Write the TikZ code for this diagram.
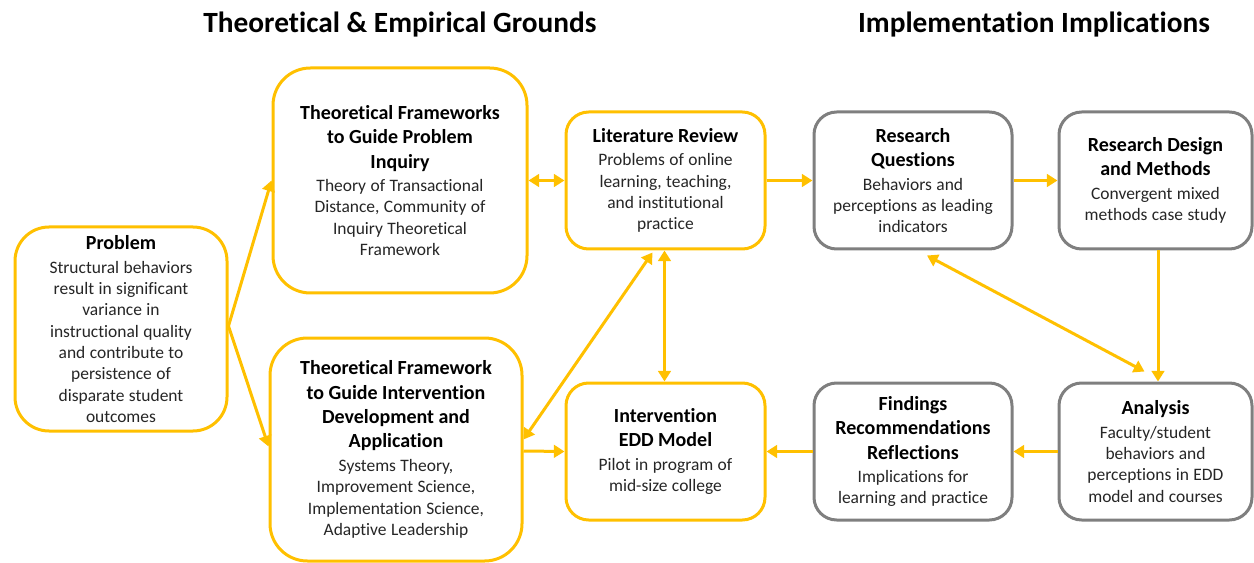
\documentclass[tikz,border=0pt]{standalone}
\usepackage{fontspec}
\setmainfont{Carlito}[Ligatures=NoCommon]
\usetikzlibrary{arrows.meta,calc}
\definecolor{ylw}{HTML}{FFC000}
\definecolor{gry}{HTML}{7F7F7F}
\definecolor{bodytxt}{HTML}{262626}
\newcommand{\bxt}[2]{{\fontsize{15}{18.3}\selectfont\bfseries #1\par}\vspace{1.6pt}{\color{bodytxt}\fontsize{13.1}{16}\selectfont #2\par}}
\tikzset{
  boxbase/.style={draw, line width=2.25pt, align=center, inner sep=0pt, fill=white},
  ybox/.style={boxbase, draw=ylw},
  gbox/.style={boxbase, draw=gry},
  smallbox/.style={minimum height=102.75pt, rounded corners=17pt},
  conn/.style={draw=ylw, line width=2.25pt},
  >={Triangle[length=8pt,width=9.5pt]},
  sect/.style={font=\fontsize{22}{26}\selectfont\bfseries, inner sep=0pt}
}
\begin{document}
\begin{tikzpicture}[x=0.75pt,y=-0.75pt]
\useasboundingbox (0,0) rectangle (1254,563);

\node[sect] (t1) at (400,25) {Theoretical \& Empirical Grounds};
\node[sect] (t2) at (1034,25) {Implementation Implications};

\node[ybox, minimum width=159pt, minimum height=153pt, text width=150pt, rounded corners=25.5pt] (prob) at (121,329)
 {\bxt{Problem}{Structural behaviors\\result in significant\\variance in\\instructional quality\\and contribute to\\persistence of\\disparate student\\outcomes}};

\node[ybox, minimum width=190.5pt, minimum height=168.75pt, text width=180pt, rounded corners=28pt] (tf1) at (400,180.5)
 {\bxt{Theoretical Frameworks\\to Guide Problem\\Inquiry}{Theory of Transactional\\Distance, Community of\\Inquiry Theoretical\\Framework}};

\node[ybox, minimum width=189pt, minimum height=167.25pt, text width=180pt, rounded corners=28pt] (tf2) at (396,449.5)
 {\bxt{Theoretical Framework\\to Guide Intervention\\Development and\\Application}{Systems Theory,\\Improvement Science,\\Implementation Science,\\Adaptive Leadership}};

\node[ybox, smallbox, minimum width=149.25pt, text width=140pt] (lit) at (665.5,180.5)
 {\bxt{Literature Review}{Problems of online\\learning, teaching,\\and institutional\\practice}};

\node[gbox, smallbox, minimum width=148.5pt, text width=140pt] (rq) at (913,180.5)
 {\bxt{Research\\Questions}{Behaviors and\\perceptions as leading\\indicators}};

\node[gbox, smallbox, minimum width=144.75pt, text width=136pt] (rd) at (1155.5,180.5)
 {\bxt{Research Design\\and Methods}{Convergent mixed\\methods case study}};

\node[ybox, smallbox, minimum width=149.25pt, text width=140pt] (iv) at (665.5,451.5)
 {\bxt{Intervention\\EDD Model}{Pilot in program of\\mid-size college}};

\node[gbox, smallbox, minimum width=148.5pt, text width=140pt] (fin) at (913,451.5)
 {\bxt{Findings\\Recommendations\\Reflections}{Implications for\\learning and practice}};

\node[gbox, smallbox, minimum width=144.75pt, text width=136pt] (an) at (1155.5,451.5)
 {\bxt{Analysis}{Faculty/student\\behaviors and\\perceptions in EDD\\model and courses}};

\draw[conn,->] ($(prob.east)+(0,-3)$) -- (tf1.west);
\draw[conn,->] ($(prob.east)+(0,-3)$) -- ($(tf2.west)+(0,-3)$);
\draw[conn,<->] (tf1.east) -- (lit.west);
\draw[conn,<->] ($(lit.south)+(-13,2)$) -- ($(tf2.east)+(0,-10)$);
\draw[conn,<->] ($(lit.south)+(-1,0)$) -- ($(iv.north)+(-1,0)$);
\draw[conn,->] ($(tf2.east)+(0,1.5)$) -- (iv.west);
\draw[conn,->] (lit.east) -- (rq.west);
\draw[conn,->] (rq.east) -- (rd.west);
\draw[conn,->] ($(rd.south)+(2.5,0)$) -- ($(an.north)+(2.5,0)$);
\draw[conn,<->] ($(rq.south)+(14,5)$) -- ($(an.north)+(-11,-10)$);
\draw[conn,->] (an.west) -- (fin.east);
\draw[conn,->] (fin.west) -- (iv.east);
\end{tikzpicture}
\end{document}
